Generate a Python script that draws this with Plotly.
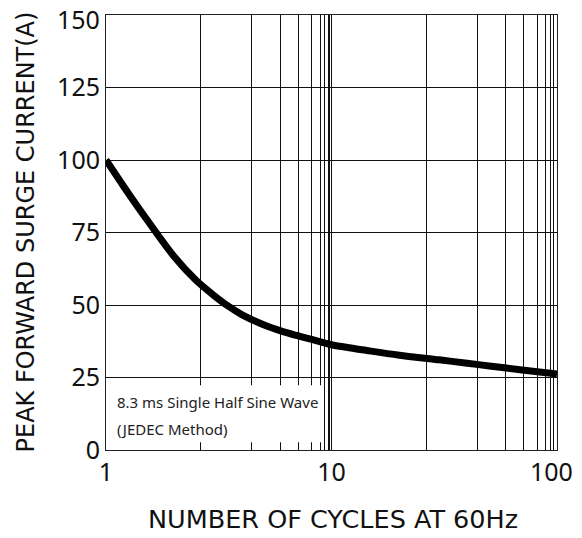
import plotly.graph_objects as go

# Data
cycles = [1, 1.2, 1.5, 2, 2.5, 3, 3.5, 4, 5, 6, 7, 8, 10, 15, 20, 30, 40, 50, 70, 100]
current = [100, 90.8, 80.0, 66.8, 58.6, 53.4, 49.5, 46.7, 43.2, 41.0, 39.5, 38.3, 36.3,
           34.1, 32.7, 31.1, 29.9, 29.0, 27.6, 26.2]

# Axis grid / tick values (as drawn on the original datasheet)
x_grid = [1, 2.63, 4.43, 5.93, 7.11, 8.18, 8.91, 9.33, 9.66, 9.84, 10,
          26.3, 44.3, 59.3, 71.1, 81.8, 89.1, 93.3, 96.6, 100]
x_labels = {1: "1", 10: "10"}
x_last_label = "100"
y_ticks = [0, 25, 50, 75, 100, 125, 150]
y_top_label = "150"

x_title = "NUMBER OF CYCLES AT 60Hz"
y_title = "PEAK FORWARD SURGE CURRENT(A)"
note_lines = ["8.3 ms Single Half Sine Wave", "(JEDEC Method)"]

TICK_FONT = "Noto Sans"
TITLE_FONT = "DejaVu Sans"

fig = go.Figure()
fig.add_trace(go.Scatter(
    x=cycles, y=current, mode="lines",
    line=dict(color="black", width=7, shape="spline", smoothing=0.8),
    showlegend=False, hoverinfo="skip",
))

fig.update_xaxes(
    type="log", range=[0, 2],
    tickvals=x_grid,
    ticktext=[x_labels.get(v, "") for v in x_grid],
    showgrid=True, gridcolor="#111", gridwidth=1,
    showline=True, linecolor="#222", linewidth=1, mirror=True,
    ticks="", zeroline=False, automargin=False, ticklabeloverflow="allow",
    tickfont=dict(family=TICK_FONT, size=25, color="#111"),
)
fig.update_yaxes(
    range=[0, 150], tickvals=y_ticks,
    ticktext=["" if v == y_ticks[-1] else str(v) for v in y_ticks],
    showgrid=True, gridcolor="#111", gridwidth=1,
    showline=True, linecolor="#222", linewidth=1, mirror=True,
    ticks="", zeroline=False, automargin=False, ticklabeloverflow="allow",
    tickfont=dict(family=TICK_FONT, size=25, color="#111"),
)

# end-of-axis labels nudged inward (as in the reference) so they stay on the page
fig.add_annotation(x=0, y=y_ticks[-1], xref="paper", yref="y", text=y_top_label,
                   showarrow=False, xanchor="right", yanchor="middle",
                   xshift=-4, yshift=-4,
                   font=dict(family=TICK_FONT, size=25, color="#111"))
fig.add_annotation(x=2, y=0, xref="x", yref="paper", text=x_last_label,
                   showarrow=False, xanchor="center", yanchor="middle",
                   xshift=-6, yshift=-21,
                   font=dict(family=TICK_FONT, size=25, color="#111"))

# white label box covering the gridlines
fig.add_shape(type="rect", xref="x", yref="y", x0=1.015, x1=9.1, y0=2.7, y1=22.3,
              fillcolor="white", line=dict(width=0), layer="between")

fig.add_annotation(x=0.04, y=16.6, xref="x", yref="y", text=note_lines[0],
                   showarrow=False, xanchor="left", yanchor="middle",
                   font=dict(family=TICK_FONT, size=15, color="#222"))
fig.add_annotation(x=0.04, y=7.1, xref="x", yref="y", text=note_lines[1],
                   showarrow=False, xanchor="left", yanchor="middle",
                   font=dict(family=TICK_FONT, size=15, color="#222"))

# axis titles
fig.add_annotation(x=0.503, y=-0.1575, xref="paper", yref="paper", text=x_title,
                   showarrow=False, xanchor="center", yanchor="middle",
                   font=dict(family=TITLE_FONT, size=25.5, color="#111"))
fig.add_annotation(x=-0.1796, y=0.5, xref="paper", yref="paper", text=y_title,
                   showarrow=False, xanchor="center", yanchor="middle", textangle=-90,
                   font=dict(family=TITLE_FONT, size=24, color="#111"))

# page body has an 8px margin, so the figure is sized/offset to land the plot
# area where the reference has it (and without causing scrollbars)
fig.update_layout(
    width=566, height=522,
    margin=dict(l=98, r=17, t=7, b=80),
    paper_bgcolor="white", plot_bgcolor="white",
)

fig.write_html("out.html")
